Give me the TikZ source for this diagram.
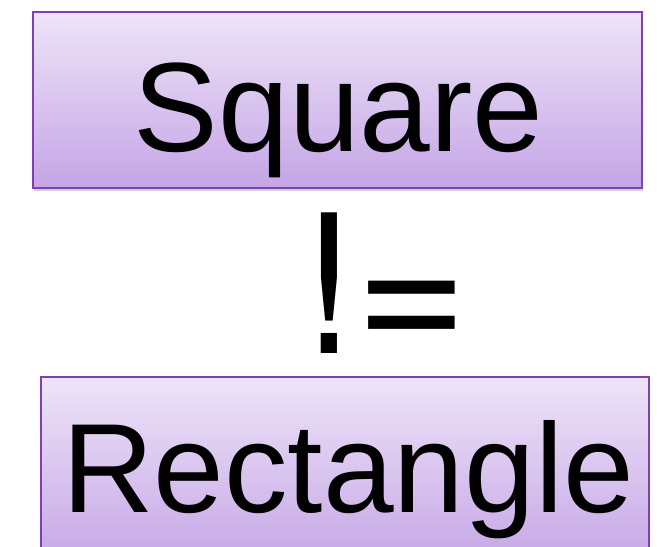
\documentclass[tikz,border=0pt]{standalone}
\usepackage{fontspec}
\setmainfont{Liberation Sans}
\newfontfamily\heros{TeX Gyre Heros}
\usepackage{xcolor}
\usetikzlibrary{positioning, shadows}
\definecolor{boxtop}{HTML}{EEE4F8}
\definecolor{boxbottom}{HTML}{C5A5E6}
\definecolor{boxline}{HTML}{7E40B2}

\begin{document}
\begin{tikzpicture}[
    x=1pt, y=-1pt,
    panel/.style={rectangle, draw=boxline, line width=2pt, top color=boxtop, bottom color=boxbottom, minimum width=#1, inner sep=0pt, drop shadow={shadow xshift=1pt, shadow yshift=-3pt, opacity=0.35}},
    word/.style={anchor=base, inner sep=0pt, font=\fontsize{127}{127}\selectfont},
]
    \useasboundingbox (0,0) rectangle (657,547);

    \node[panel=609pt, minimum height=176pt] (square) at (337.5,100) {};
    \node[word] (squaretext) at (338.5,151) {Square};

    % the not-equal sign
    \node[word, font=\heros\fontsize{193}{193}\selectfont] (neq) at (385.5,353) {!=};

    \node[panel=608pt, minimum height=190pt, below=187pt of square.south, anchor=north, xshift=7.5pt] (rect) {};
    \node[word] (recttext) at (348,512) {Rectangle};
\end{tikzpicture}
\end{document}
